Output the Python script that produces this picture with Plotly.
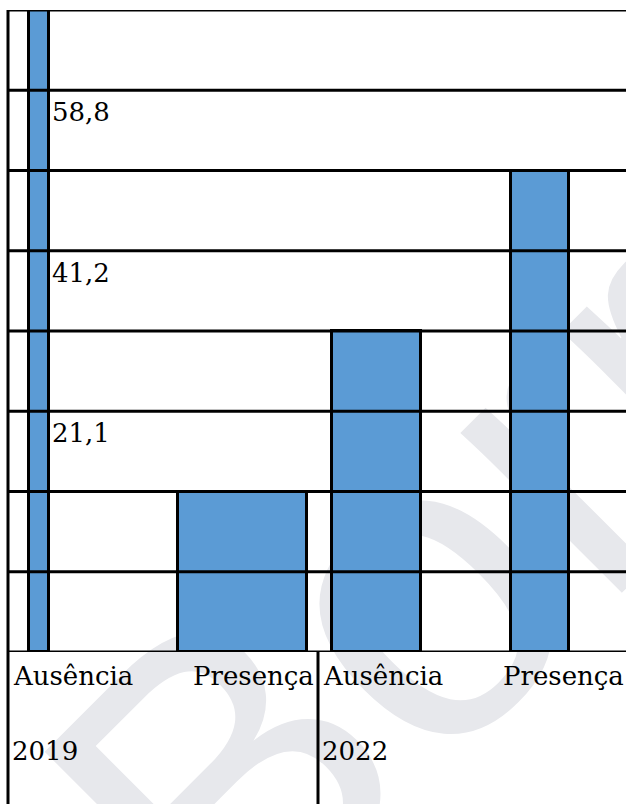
import plotly.graph_objects as go

# ---- data ----
categories = ["Ausência", "Presença", "Ausência", "Presença"]
years = ["2019", "2022"]
bar_rows = [8, 2, 4, 6]            # bar heights in table rows
value_labels = [58.8, 41.2, 21.1]  # values printed beside the first bar

# ---- layout / style (pixel-based helpers) ----
W, H = 626, 804
TOP, BOTTOM = 10, 652
N_ROWS = 8
bar_left = [29, 178, 332, 511]
bar_right = [49, 307, 421, 569]
label_row_top = [7, 5, 3]
cat_x = [11, 316, 321, 626]
cat_anchor = ["left", "right", "left", "right"]
year_x = [10, 320]
left_border_x = 8
sep_x = 318

BLUE = "#5B9BD5"
FONT = "DejaVu Serif"
FS = 26
WM_CX, WM_CY = 686, 260   # watermark centre (pixels)
WM_SIZE = 430


def py(p):
    return (H - p) / H


centers = [(l + r) / 2 for l, r in zip(bar_left, bar_right)]
widths = [r - l for l, r in zip(bar_left, bar_right)]

fig = go.Figure()
fig.add_trace(go.Bar(
    x=centers, y=bar_rows, width=widths,
    marker=dict(color=BLUE, line=dict(color="black", width=3)),
    hoverinfo="skip", showlegend=False,
))

shapes = []
# watermark
shapes.append(dict(
    type="rect", xref="paper", yref="paper",
    x0=WM_CX / W - 0.3, x1=WM_CX / W + 0.3, y0=py(WM_CY) - 0.3, y1=py(WM_CY) + 0.3,
    line=dict(width=0), fillcolor="rgba(0,0,0,0)", layer="below",
    label=dict(text="Borrador", textangle=-45, textposition="middle center",
               font=dict(family="Liberation Sans", size=WM_SIZE, color="#E7E8EC")),
))
# horizontal row lines
for k in range(N_ROWS + 1):
    shapes.append(dict(type="line", xref="x", yref="y", x0=left_border_x, x1=W,
                       y0=k, y1=k, line=dict(color="black", width=3), layer="above"))
# left border
shapes.append(dict(type="line", xref="x", yref="paper", x0=left_border_x, x1=left_border_x,
                   y0=0, y1=py(TOP), line=dict(color="black", width=3), layer="above"))
# separator between years
shapes.append(dict(type="line", xref="x", yref="paper", x0=sep_x, x1=sep_x,
                   y0=0, y1=py(BOTTOM), line=dict(color="black", width=3), layer="above"))

annotations = []
for v, r in zip(value_labels, label_row_top):
    annotations.append(dict(
        x=bar_right[0] + 1, y=r, xref="x", yref="y", xanchor="left", yanchor="top",
        yshift=-5, text=f"{v:.1f}".replace(".", ","), showarrow=False,
        font=dict(family=FONT, size=FS, color="black"),
    ))
for c, x, a in zip(categories, cat_x, cat_anchor):
    annotations.append(dict(
        x=x, y=py(676), xref="x", yref="paper", xanchor=a, yanchor="middle",
        text=c, showarrow=False, font=dict(family=FONT, size=FS, color="black"),
    ))
for yr, x in zip(years, year_x):
    annotations.append(dict(
        x=x, y=py(751), xref="x", yref="paper", xanchor="left", yanchor="middle",
        text=yr, showarrow=False, font=dict(family=FONT, size=FS, color="black"),
    ))

fig.update_layout(
    width=W, height=H, margin=dict(l=0, r=0, t=0, b=0),
    paper_bgcolor="white", plot_bgcolor="rgba(0,0,0,0)",
    font=dict(family=FONT),
    xaxis=dict(range=[0, W], domain=[0, 1], visible=False, fixedrange=True),
    yaxis=dict(range=[0, N_ROWS], domain=[py(BOTTOM), py(TOP)], visible=False,
               fixedrange=True),
    shapes=shapes, annotations=annotations, bargap=0,
)
fig.write_html("out.html")
